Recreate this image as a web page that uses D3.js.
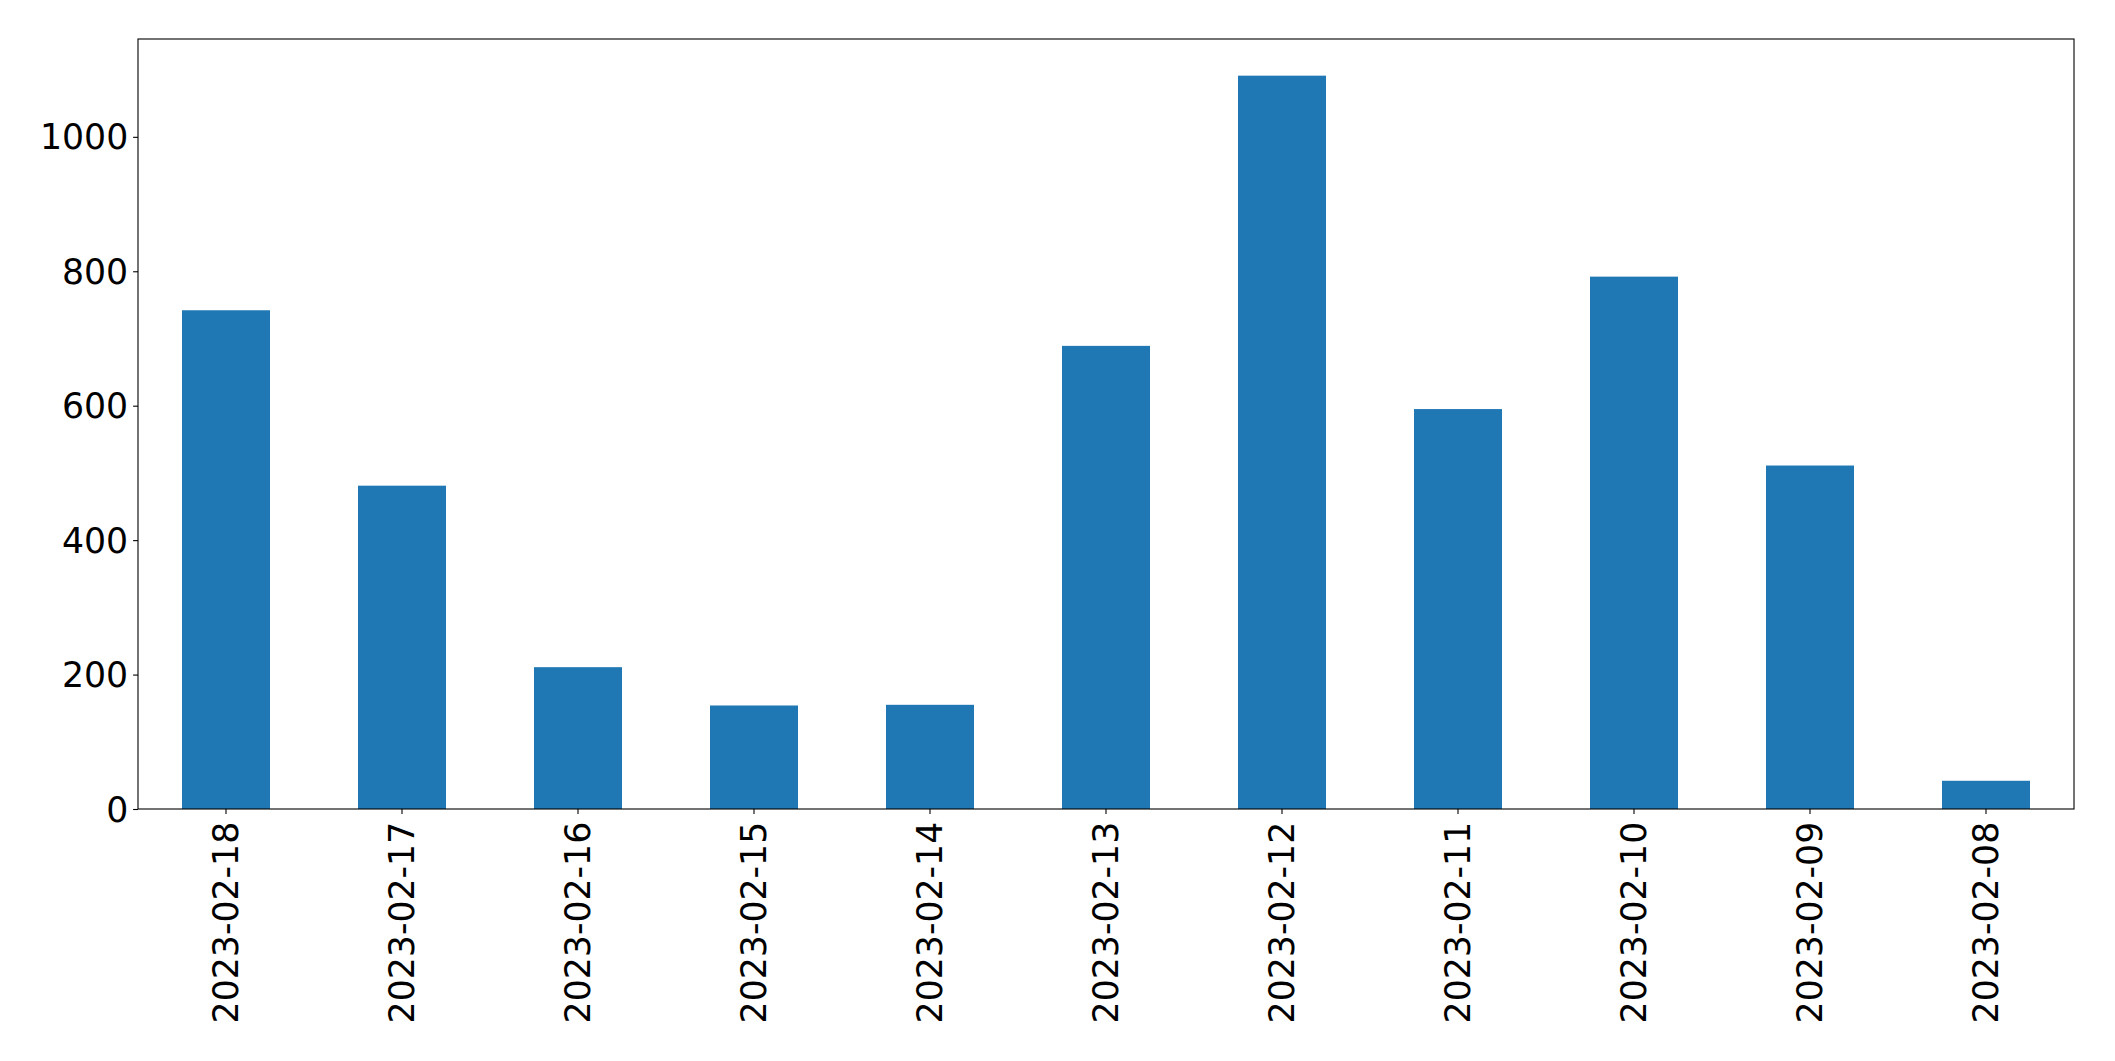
<!DOCTYPE html>
<html>
<head>
<meta charset="utf-8">
<script src="https://cdn.jsdelivr.net/npm/d3@7"></script>
<style>
  html, body { margin: 0; padding: 0; background: #fff; }
  svg text { font-family: "DejaVu Sans", sans-serif; fill: #000; }
</style>
</head>
<body>
<script>
// Dati
const dates = ["2023-02-18", "2023-02-17", "2023-02-16", "2023-02-15", "2023-02-14", "2023-02-13",
               "2023-02-12", "2023-02-11", "2023-02-10", "2023-02-09", "2023-02-08"];
const counts = [742, 481, 211, 154, 155, 689, 1091, 595, 792, 511, 42];
const yTicks = [0, 200, 400, 600, 800, 1000];

const width = 2115;
const height = 1061;
const marginLeft = 138;
const marginRight = 41;
const marginTop = 39;
const marginBottom = 252;
const fontSize = 34.7;
const tickLen = 4.9;
const tickPad = 4.9;

const svg = d3.select("body").append("svg")
  .attr("width", width)
  .attr("height", height);

// Scala x a bande (larghezza barra 0.5 come matplotlib)
const xScale = d3.scaleBand()
  .domain(dates)
  .range([marginLeft, width - marginRight])
  .paddingInner(0.5)
  .paddingOuter(0.25);

// Scala y con margine del 5% sopra il massimo
const yScale = d3.scaleLinear()
  .domain([0, d3.max(counts) * 1.05])
  .range([height - marginBottom, marginTop]);

// Barre
svg.append("g")
  .selectAll("rect")
  .data(dates)
  .join("rect")
  .attr("x", d => xScale(d))
  .attr("y", (d, i) => yScale(counts[i]))
  .attr("width", xScale.bandwidth())
  .attr("height", (d, i) => yScale(0) - yScale(counts[i]))
  .attr("fill", "#1f77b4");

// Asse y
svg.append("g")
  .attr("transform", "translate(" + marginLeft + ",0)")
  .call(d3.axisLeft(yScale).tickValues(yTicks).tickSize(tickLen).tickPadding(tickPad).tickFormat(d3.format("d")))
  .call(g => g.select(".domain").remove())
  .call(g => g.selectAll("line").attr("stroke", "#000").attr("stroke-width", 1.1))
  .call(g => g.selectAll("text")
    .attr("font-size", fontSize)
    .attr("font-family", "DejaVu Sans")
    .attr("dy", "0.35em"));

// Asse x con etichette ruotate
svg.append("g")
  .attr("transform", "translate(0," + (height - marginBottom) + ")")
  .call(d3.axisBottom(xScale).tickSize(tickLen).tickPadding(tickPad))
  .call(g => g.select(".domain").remove())
  .call(g => g.selectAll("line").attr("stroke", "#000").attr("stroke-width", 1.1))
  .selectAll("text")
  .attr("font-size", fontSize)
  .attr("font-family", "DejaVu Sans")
  .attr("text-anchor", "end")
  .attr("transform", "rotate(-90)")
  .attr("x", -(tickLen + tickPad + 3))
  .attr("y", 0)
  .attr("dy", "0.35em");

// Cornice degli assi
svg.append("rect")
  .attr("x", marginLeft)
  .attr("y", marginTop)
  .attr("width", width - marginLeft - marginRight)
  .attr("height", height - marginTop - marginBottom)
  .attr("fill", "none")
  .attr("stroke", "#000")
  .attr("stroke-width", 1.1);
</script>
</body>
</html>
